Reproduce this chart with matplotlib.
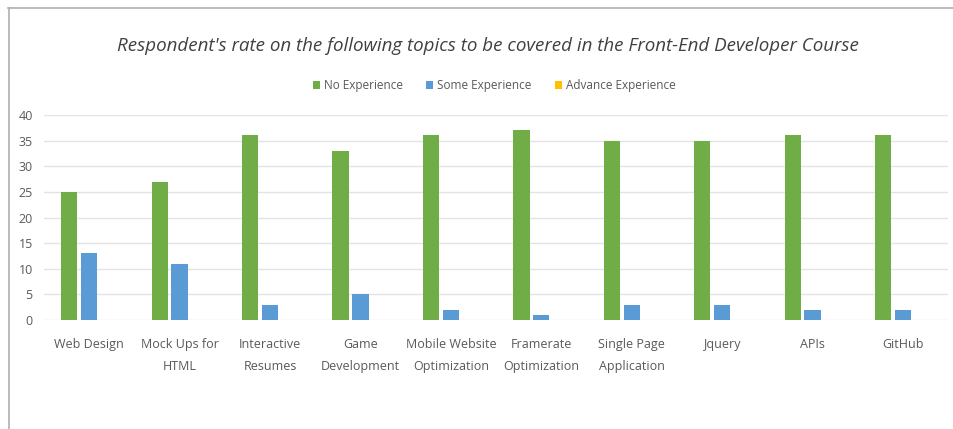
import numpy as np
import matplotlib.pyplot as plt
from matplotlib.lines import Line2D

# Survey results per topic
topics = ["Web Design", "Mock Ups for\nHTML", "Interactive\nResumes", "Game\nDevelopment",
          "Mobile Website\nOptimization", "Framerate\nOptimization", "Single Page\nApplication",
          "Jquery", "APIs", "GitHub"]
no_experience = [25, 27, 36, 33, 36, 37, 35, 35, 36, 36]
some_experience = [13, 11, 3, 5, 2, 1, 3, 3, 2, 2]
advance_experience = [0, 0, 0, 0, 0, 0, 0, 0, 0, 0]
series_names = ["No Experience", "Some Experience", "Advance Experience"]
yticks = [0, 5, 10, 15, 20, 25, 30, 35, 40]

plt.rcParams['font.family'] = ['Open Sans', 'DejaVu Sans']

fig = plt.figure(figsize=(9.54, 4.29), dpi=100)
ax = fig.add_axes([0.046, 0.254, 0.948, 0.478])

x = np.arange(len(topics))
w = 0.18
step = 0.22
colors = ["#70AD47", "#5B9BD5", "#FFC000"]
for i, (vals, name) in enumerate(zip([no_experience, some_experience, advance_experience], series_names)):
    ax.bar(x + (i - 1) * step, vals, width=w, color=colors[i], label=name, zorder=3)

ax.set_xlim(-0.5, len(topics) - 0.5)
ax.set_ylim(0, 40)
ax.set_yticks(yticks)
ax.set_xticks(x)
ax.set_xticklabels(topics, fontsize=9, color="#595959", linespacing=1.85)
ax.tick_params(axis='y', labelsize=9, labelcolor="#595959", length=0, pad=8)
ax.tick_params(axis='x', length=0, pad=13)
ax.grid(axis='y', color="#E3E3E3", linewidth=1, zorder=0)
for s in ax.spines.values():
    s.set_visible(False)

fig.text(0.511, 0.893, "Respondent's rate on the following topics to be covered in the Front-End Developer Course",
         ha='center', va='center', fontsize=13.5, style='italic', color="#404040")
fig.legend(loc='center', bbox_to_anchor=(0.518, 0.8), ncol=3, frameon=False, fontsize=8.5,
           handlelength=0.6, handleheight=0.6, handletextpad=0.3, columnspacing=2.0,
           labelcolor="#595959")

# frame edges
fig.add_artist(Line2D([8 / 954, 1], [1 - 8 / 429, 1 - 8 / 429], color="#AFAFAF", linewidth=1.2))
fig.add_artist(Line2D([9 / 954, 9 / 954], [0, 1 - 8 / 429], color="#AFAFAF", linewidth=1.2))

plt.savefig("out.png", dpi=100)
